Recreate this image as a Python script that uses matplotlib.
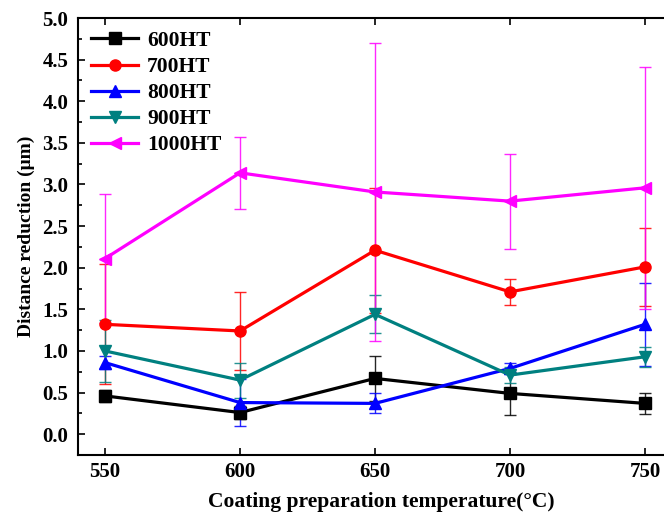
import matplotlib.pyplot as plt
from matplotlib.ticker import MultipleLocator

# --- Data ---
temps = [550, 600, 650, 700, 750]
labels = ["600HT", "700HT", "800HT", "900HT", "1000HT"]

ht600 = [0.46, 0.26, 0.67, 0.49, 0.37]
ht600_err = [0.07, 0.08, 0.27, 0.26, 0.13]
ht700 = [1.32, 1.24, 2.21, 1.71, 2.01]
ht700_err = [0.72, 0.47, 0.75, 0.16, 0.47]
ht800 = [0.86, 0.38, 0.37, 0.79, 1.32]
ht800_err = [0.08, 0.28, 0.12, 0.07, 0.50]
ht900 = [1.00, 0.65, 1.44, 0.71, 0.93]
ht900_err = [0.37, 0.21, 0.23, 0.10, 0.12]
ht1000 = [2.11, 3.14, 2.91, 2.80, 2.96]
ht1000_err = [0.78, 0.43, 1.79, 0.57, 1.45]

series = [ht600, ht700, ht800, ht900, ht1000]
errors = [ht600_err, ht700_err, ht800_err, ht900_err, ht1000_err]
colors = ["black", "#ff0000", "#0000ff", "#008080", "#ff00ff"]
markers = ["s", "o", "^", "v", "<"]

plt.rcParams["font.family"] = ["Liberation Serif", "DejaVu Serif"]
plt.rcParams["font.weight"] = "bold"

fig = plt.figure(figsize=(6.64, 5.13), dpi=100)
ax = fig.add_axes([78 / 664, 58 / 513, 594 / 664, 437 / 513])

for y, e, c, m, lab in zip(series, errors, colors, markers, labels):
    ax.errorbar(temps, y, yerr=e, fmt="none", ecolor=c, elinewidth=1,
                capsize=4, capthick=1, alpha=0.85, zorder=2)
    ax.plot(temps, y, color=c, marker=m, markersize=8, linewidth=2.3,
            label=lab, zorder=3)

ax.set_xlim(540, 760)
ax.set_ylim(-0.25, 5.0)
ax.xaxis.set_major_locator(MultipleLocator(50))
ax.yaxis.set_major_locator(MultipleLocator(0.5))
ax.yaxis.set_minor_locator(MultipleLocator(0.25))
ax.tick_params(which="both", direction="in", top=True, right=True,
               labelsize=15, width=1.2)
ax.tick_params(which="major", length=5)
ax.tick_params(which="minor", length=3)
ax.tick_params(axis="x", pad=5)
ax.tick_params(axis="y", pad=7)
ax.yaxis.set_major_formatter(plt.FormatStrFormatter("%.1f"))
for s in ax.spines.values():
    s.set_linewidth(1.5)

ax.set_xlabel("Coating preparation temperature(°C)", fontsize=15.5,
              fontweight="bold")
ax.xaxis.set_label_coords(0.51, -0.085)
ax.set_ylabel("Distance reduction (μm)", fontsize=14, fontweight="bold",
              labelpad=5)

ax.legend(loc="upper left", frameon=False, fontsize=15.5, handlelength=2.2,
          borderaxespad=0.2, labelspacing=0.28, handletextpad=0.4)

fig.savefig("out.png", dpi=100)
